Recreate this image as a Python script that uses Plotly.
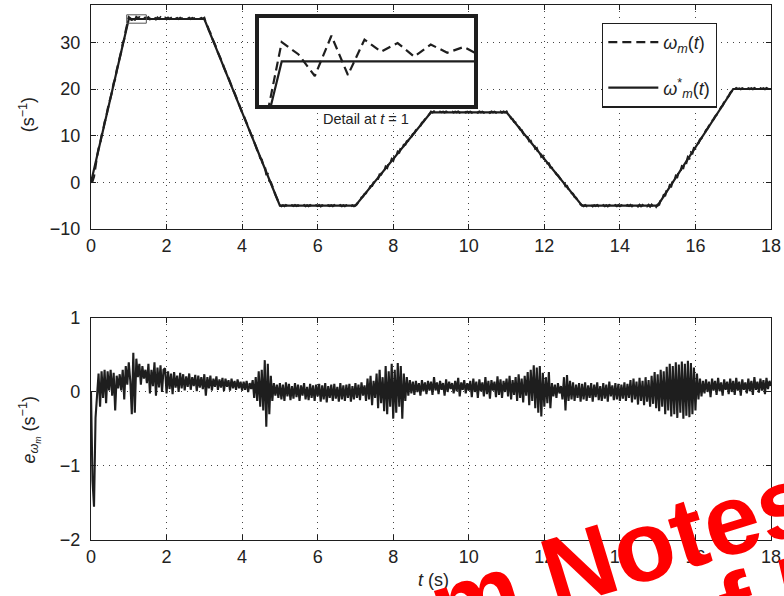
import numpy as np
import plotly.graph_objects as go

# Reference speed profile omega*_m(t): piecewise-linear breakpoints
ref_t = [0, 1, 3, 5, 7, 9, 11, 13, 15, 17, 18]
ref_w = [0, 35, 35, -5, -5, 15, 15, -5, -5, 20, 20]

# Speed tracking error e(t) = omega_m - omega*_m, sampled every 0.04 s (one list per second)
dt = 0.04
e_s00 = [0.00, -1.20, -1.55, -0.35, -0.05, 0.25, -0.20, 0.28, -0.08, 0.30, -0.15, 0.28, 0.02,
         0.30, -0.05, 0.26, -0.25, 0.22, 0.05, 0.24, 0.02, 0.30, -0.10, 0.35, 0.10]
e_s01 = [0.40, 0.15, -0.30, 0.53, -0.28, 0.45, 0.20, 0.38, 0.10, 0.35, 0.18, 0.30, 0.12,
         0.38, -0.02, 0.30, 0.08, 0.40, -0.05, 0.33, 0.06, 0.36, 0.00, 0.30, 0.32]
e_s02 = [-0.02, 0.28, 0.04, 0.25, -0.03, 0.27, 0.06, 0.22, 0.00, 0.26, 0.05, 0.24, 0.02,
         0.21, 0.07, 0.25, 0.03, 0.20, 0.08, 0.23, 0.01, 0.22, 0.06, 0.20, 0.04]
e_s03 = [0.24, -0.05, 0.20, 0.05, 0.22, 0.02, 0.18, 0.07, 0.21, 0.03, 0.17, 0.06, 0.19,
         0.01, 0.18, 0.07, 0.16, 0.02, 0.18, 0.05, 0.15, 0.03, 0.17, 0.05, 0.14]
e_s04 = [0.02, 0.14, 0.03, 0.15, 0.00, 0.12, 0.04, 0.16, -0.08, 0.20, -0.12, 0.28, -0.20,
         0.30, -0.25, 0.43, -0.47, 0.38, -0.30, 0.22, -0.12, 0.12, -0.05, 0.10, -0.08]
e_s05 = [0.12, -0.10, 0.10, -0.12, 0.13, -0.06, 0.11, -0.11, 0.08, -0.09, 0.12, -0.07, 0.10,
         -0.12, 0.09, -0.05, 0.12, -0.10, 0.07, -0.11, 0.11, -0.08, 0.09, -0.12, 0.10]
e_s06 = [-0.06, 0.11, -0.13, 0.09, -0.10, 0.12, -0.14, 0.08, -0.08, 0.10, -0.12, 0.11, -0.09,
         0.07, -0.13, 0.12, -0.10, 0.09, -0.12, 0.10, -0.08, 0.11, -0.13, 0.08, -0.10]
e_s07 = [0.12, -0.08, 0.10, -0.11, 0.13, -0.05, 0.09, -0.12, 0.18, -0.10, 0.22, -0.18, 0.15,
         -0.08, 0.25, -0.22, 0.30, -0.15, 0.20, -0.26, 0.35, -0.30, 0.28, -0.20, 0.38]
e_s08 = [-0.36, 0.30, -0.28, 0.39, -0.20, 0.35, -0.36, 0.25, -0.12, 0.20, -0.05, 0.16, -0.02,
         0.14, -0.04, 0.15, 0.00, 0.12, -0.05, 0.16, 0.01, 0.13, -0.03, 0.15, 0.02]
e_s09 = [0.14, -0.04, 0.20, 0.02, 0.13, -0.03, 0.15, 0.03, 0.12, -0.05, 0.17, 0.00, 0.14,
         0.04, 0.12, -0.02, 0.15, 0.01, 0.19, -0.06, 0.13, 0.03, 0.16, -0.02, 0.12]
e_s10 = [0.02, 0.15, -0.07, 0.18, 0.00, 0.14, -0.08, 0.17, 0.01, 0.13, -0.06, 0.20, -0.03,
         0.15, -0.09, 0.16, 0.02, 0.14, -0.07, 0.21, -0.04, 0.17, -0.08, 0.15, 0.00]
e_s11 = [0.18, -0.06, 0.22, -0.10, 0.16, -0.04, 0.20, -0.12, 0.24, -0.08, 0.18, -0.14, 0.22,
         -0.05, 0.27, -0.18, 0.30, -0.12, 0.36, -0.22, 0.33, -0.28, 0.35, -0.33, 0.26]
e_s12 = [-0.20, 0.20, -0.15, 0.27, -0.22, 0.12, -0.06, 0.10, -0.08, 0.12, -0.02, 0.08, -0.10,
         0.20, -0.25, 0.23, -0.12, 0.15, -0.10, 0.13, -0.12, 0.10, -0.08, 0.12, -0.13]
e_s13 = [0.11, -0.10, 0.13, -0.12, 0.09, -0.08, 0.12, -0.13, 0.10, -0.07, 0.13, -0.11, 0.08,
         -0.12, 0.12, -0.09, 0.10, -0.13, 0.14, -0.06, 0.09, -0.11, 0.12, -0.10, 0.11]
e_s14 = [-0.12, 0.10, -0.09, 0.13, -0.12, 0.11, -0.08, 0.16, -0.14, 0.18, -0.10, 0.14, -0.17,
         0.19, -0.12, 0.15, -0.18, 0.20, -0.13, 0.16, -0.20, 0.22, -0.16, 0.27, -0.22]
e_s15 = [0.24, -0.26, 0.30, -0.20, 0.28, -0.30, 0.34, -0.25, 0.38, -0.33, 0.35, -0.30, 0.40,
         -0.35, 0.37, -0.28, 0.41, -0.36, 0.38, -0.32, 0.42, -0.34, 0.39, -0.30, 0.33]
e_s16 = [-0.25, 0.25, -0.10, 0.18, -0.06, 0.15, -0.02, 0.17, 0.00, 0.14, -0.07, 0.18, 0.02,
         0.15, -0.04, 0.19, 0.01, 0.13, -0.05, 0.17, 0.03, 0.14, -0.03, 0.18, 0.00]
e_s17 = [0.15, -0.04, 0.19, 0.02, 0.14, -0.05, 0.17, 0.03, 0.13, -0.02, 0.18, 0.01, 0.15,
         -0.04, 0.20, 0.03, 0.14, -0.01, 0.18, 0.02, 0.16, -0.03, 0.19, 0.04, 0.15, 0.08]

err = (e_s00 + e_s01 + e_s02 + e_s03 + e_s04 + e_s05 + e_s06 + e_s07 + e_s08
       + e_s09 + e_s10 + e_s11 + e_s12 + e_s13 + e_s14 + e_s15 + e_s16 + e_s17)
t = np.round(np.arange(len(err)) * dt, 4)
w_meas = np.interp(t, ref_t, ref_w) + np.array(err)

# Zoom window shown in the detail box
detail_t = [0.945, 1.465]
detail_w = [34.1, 35.9]

x_ticks = list(range(0, 19, 2))
y1_ticks = [-10, 0, 10, 20, 30]
y2_ticks = [-2, -1, 0, 1]

INK = "#1e1e1e"
FONT = "Liberation Sans, Arial, Helvetica, sans-serif"

fig = go.Figure()

# upper panel
fig.add_trace(go.Scatter(x=ref_t, y=ref_w, mode="lines",
                         name="<i>ω</i><sup>*</sup><sub><i>m</i></sub>(<i>t</i>)",
                         line=dict(color=INK, width=2.2), xaxis="x", yaxis="y",
                         legendgroup="ref", legendrank=2))
fig.add_trace(go.Scatter(x=t, y=w_meas, mode="lines", name="<i>ω</i><sub><i>m</i></sub>(<i>t</i>)",
                         line=dict(color=INK, width=2.2, dash="9px,5px"), xaxis="x", yaxis="y",
                         legendgroup="meas", legendrank=1))

# lower panel: error
fig.add_trace(go.Scatter(x=t, y=err, mode="lines", showlegend=False,
                         line=dict(color=INK, width=2.1), xaxis="x2", yaxis="y2"))

# detail inset
fig.add_trace(go.Scatter(x=ref_t, y=ref_w, mode="lines", showlegend=False,
                         line=dict(color=INK, width=2.2), xaxis="x3", yaxis="y3"))
fig.add_trace(go.Scatter(x=t, y=w_meas, mode="lines", showlegend=False,
                         line=dict(color=INK, width=2.2, dash="9px,5px"), xaxis="x3", yaxis="y3"))

grid = dict(showgrid=True, gridcolor="#444", gridwidth=1, griddash="1px,5px", zeroline=False,
            showline=True, linecolor=INK, linewidth=1.4, mirror="ticks", ticks="inside",
            ticklen=5, tickcolor=INK, tickfont=dict(size=18, color="#222"))

fig.update_layout(
    width=784, height=596,
    margin=dict(l=91, r=13, t=5, b=56, autoexpand=False),
    paper_bgcolor="white", plot_bgcolor="white",
    font=dict(family=FONT, size=18, color="#222"),
    xaxis=dict(domain=[0, 1], anchor="y", range=[0, 18], tickvals=x_ticks, **grid),
    yaxis=dict(domain=[0.5813, 1], anchor="x", range=[-10, 38], tickvals=y1_ticks,
               ticklabelstandoff=6, **grid),
    xaxis2=dict(domain=[0, 1], anchor="y2", range=[0, 18], tickvals=x_ticks, **grid),
    yaxis2=dict(domain=[0, 0.415], anchor="x2", range=[-2, 1], tickvals=y2_ticks,
                ticklabelstandoff=6, **grid),
    xaxis3=dict(domain=[0.247, 0.5635], anchor="y3", range=detail_t, showticklabels=False,
                ticks="", showgrid=False, zeroline=False, showline=True, linecolor=INK,
                linewidth=4, mirror=True),
    yaxis3=dict(domain=[0.813, 0.976], anchor="x3", range=detail_w, showticklabels=False,
                ticks="", showgrid=False, zeroline=False, showline=True, linecolor=INK,
                linewidth=4, mirror=True),
    legend=dict(x=0.7515, y=0.967, xanchor="left", yanchor="top", bgcolor="white",
                bordercolor=INK, borderwidth=1.3, traceorder="grouped",
                tracegroupgap=19, font=dict(size=18, color="#222"), itemwidth=50),
)

# marker box around the zoomed region
fig.add_shape(type="rect", xref="x", yref="y", x0=detail_t[0], x1=detail_t[1],
              y0=detail_w[0], y1=detail_w[1], line=dict(color="#555", width=1))

annotations = [
    dict(text="(s<sup>−1</sup>)", x=-0.094, y=0.794, textangle=-90),
    dict(text="<i>e</i><sub><i>ω</i><sub><i>m</i></sub></sub> (s<sup>−1</sup>)", x=-0.09, y=0.206,
         textangle=-90),
    dict(text="<i>t</i> (s)", x=0.503, y=-0.075),
    dict(text="Detail at <i>t</i> = 1", x=0.404, y=0.787, font=dict(size=14.5, color="#222")),
]
for a in annotations:
    fig.add_annotation(xref="paper", yref="paper", showarrow=False, xanchor="center",
                       yanchor="middle", **a)

# red watermark lettering
fig.add_annotation(text="<b>m Notesa</b>", xref="paper", yref="paper", x=(649 - 91) / 680,
                   y=(540 - 544) / 535, xanchor="center", yanchor="middle", showarrow=False,
                   textangle=-17, font=dict(size=100, color="#ff0000", family=FONT))
fig.add_annotation(text="<b>f 5</b>", xref="paper", yref="paper", x=(778 - 91) / 680,
                   y=(540 - 596) / 535, xanchor="center", yanchor="middle", showarrow=False,
                   textangle=-17, font=dict(size=100, color="#ff0000", family=FONT))

fig.write_html("out.html")
